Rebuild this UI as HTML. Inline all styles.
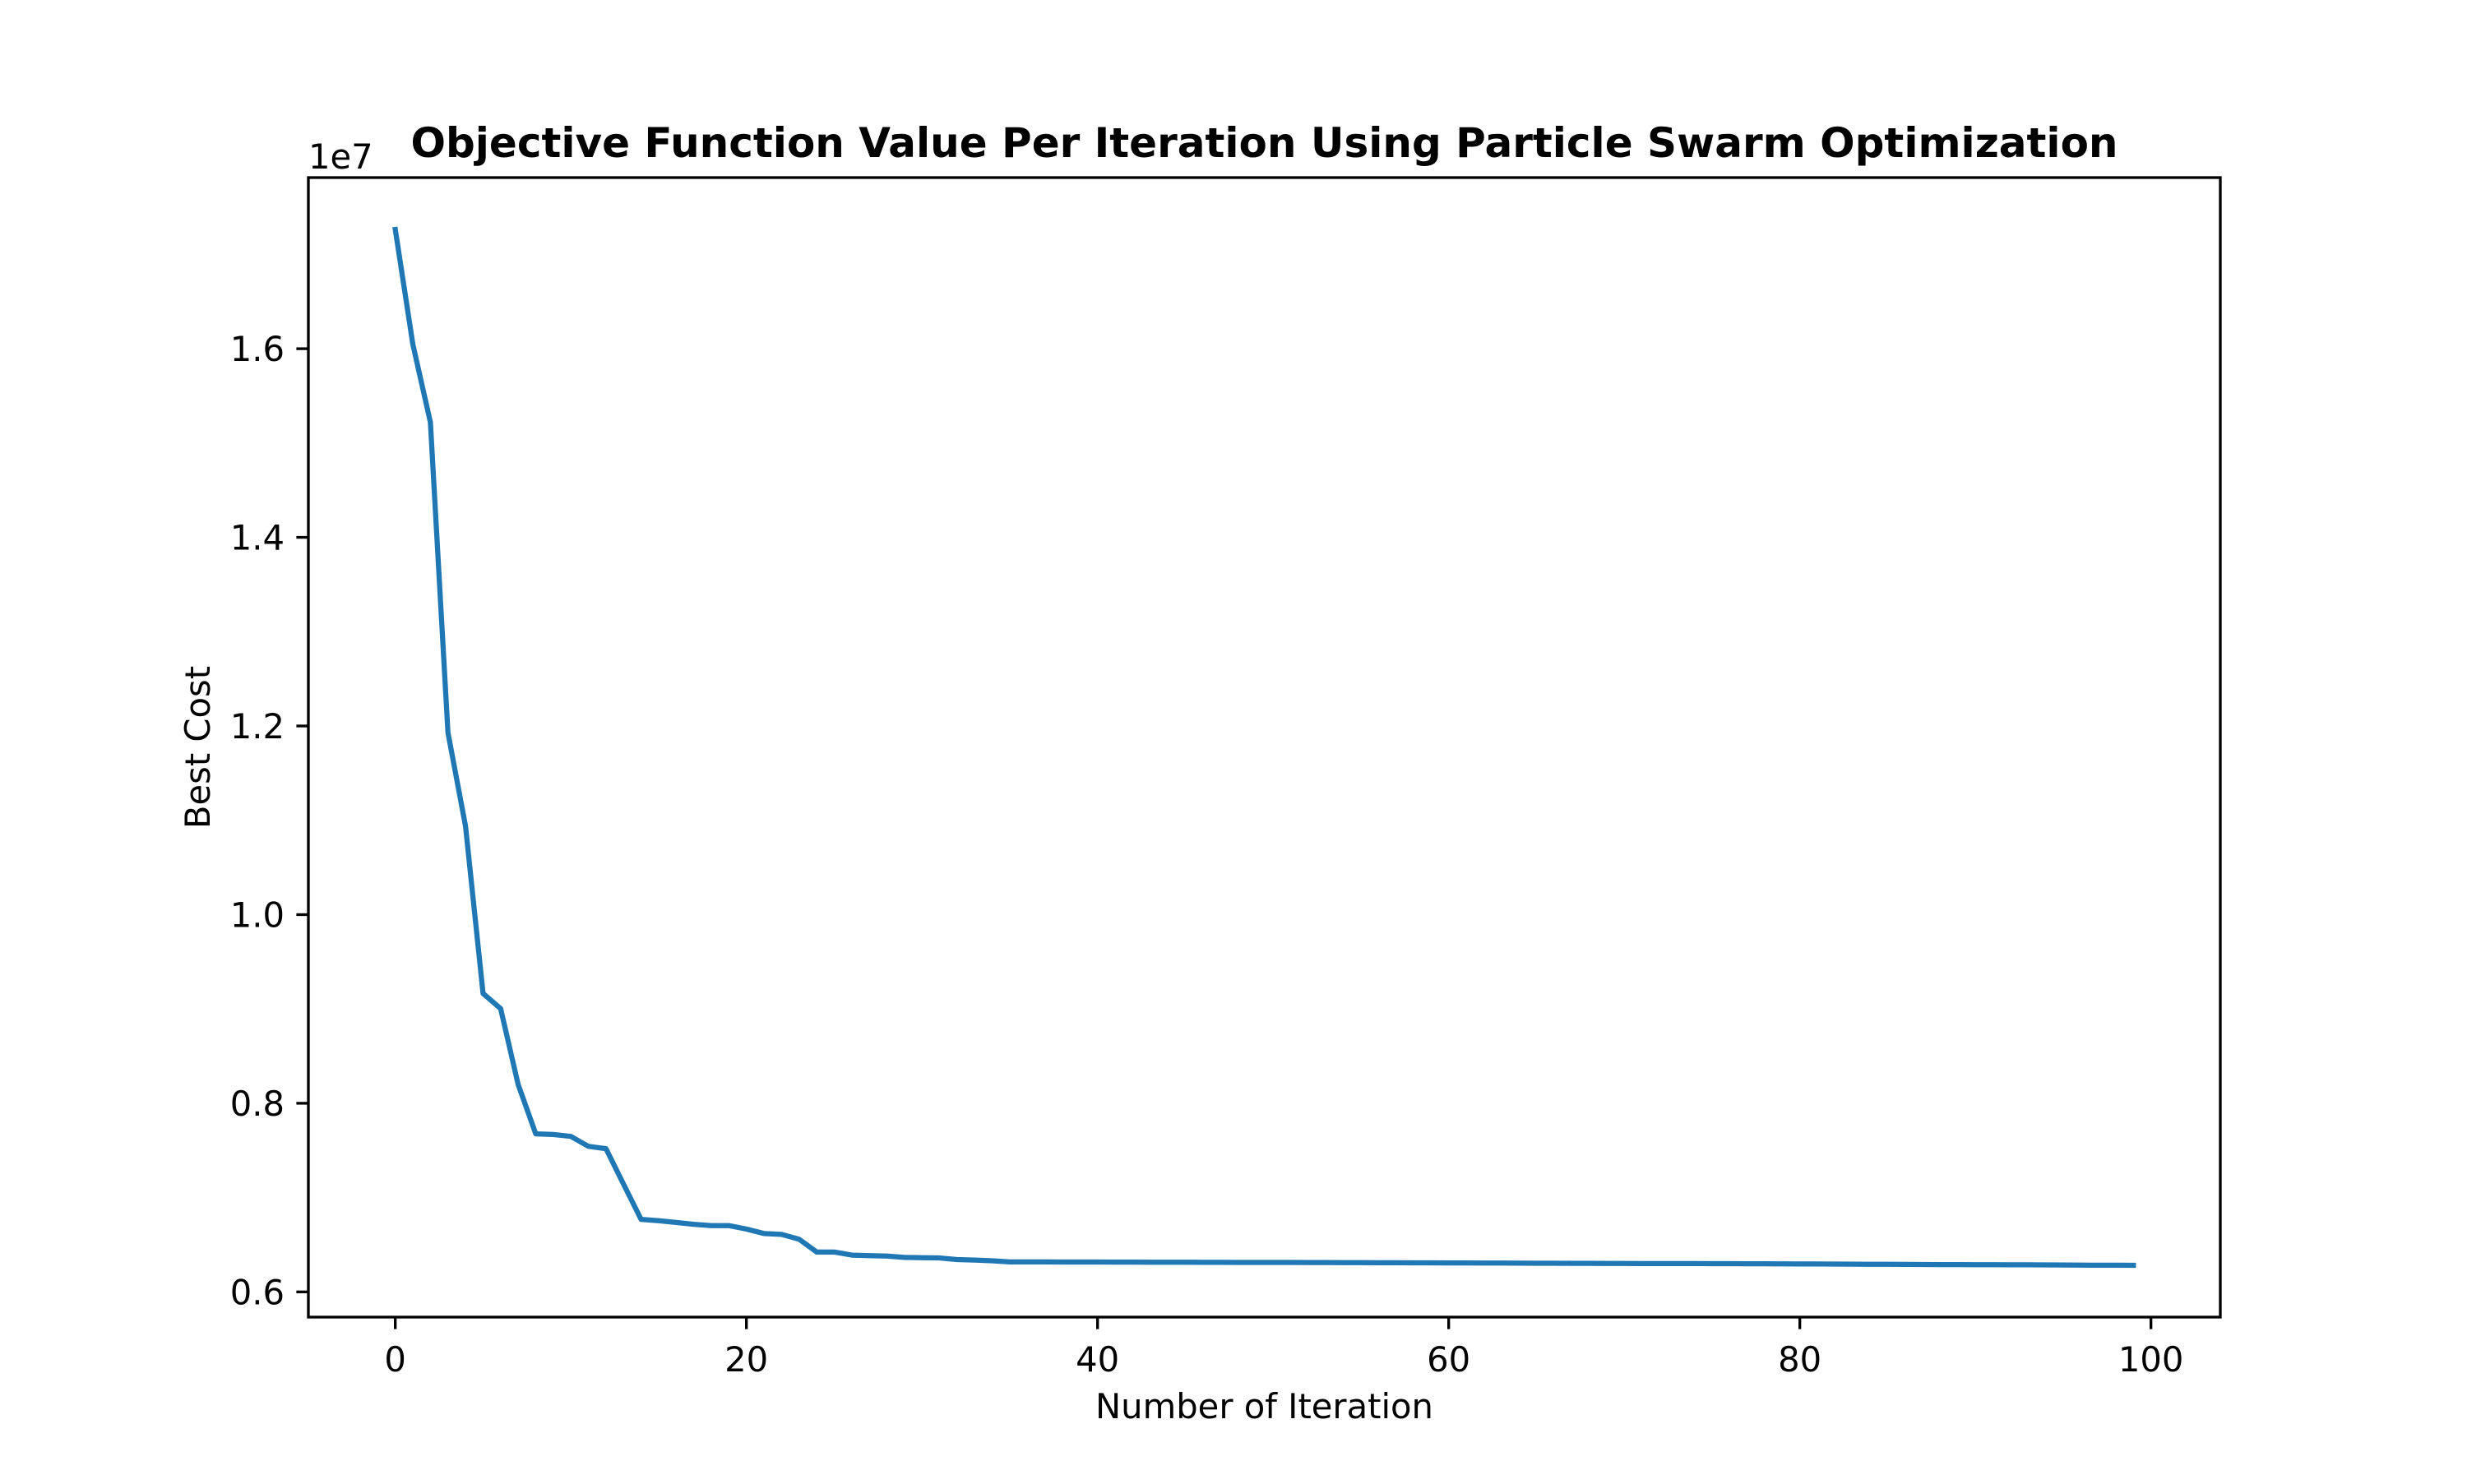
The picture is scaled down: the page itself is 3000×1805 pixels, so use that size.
<!DOCTYPE html>
<html><head><meta charset="utf-8"><style>
html,body{margin:0;padding:0;background:#fff;}
svg text{font-family:"DejaVu Sans","Liberation Sans",sans-serif;fill:#000;}
</style></head><body>
<svg id="chart" width="3000" height="1800" viewBox="0 0 3000 1800" xmlns="http://www.w3.org/2000/svg">
<rect x="0" y="0" width="3000" height="1800" fill="#fff"/>
<g id="marks"></g>
<g id="axes"></g>
</svg>
<script>
const iterations = [];
const bestCost = [1.7265,1.6047,1.5220,1.1930,1.0940,0.9164,0.9004,0.8198,0.7676,0.7669,
0.7649,0.7543,0.7519,0.7143,0.6769,0.6755,0.6736,0.6717,0.6703,0.6703,
0.6666,0.6619,0.6610,0.6559,0.6423,0.6423,0.6390,0.6384,0.6380,0.6366,
0.6363,0.6360,0.6343,0.6338,0.6330,0.6318,0.6318,0.6318,0.6317,0.6317,
0.6317,0.6316,0.6316,0.6315,0.6315,0.6315,0.6314,0.6314,0.6313,0.6313,
0.6312,0.6312,0.6311,0.6311,0.6310,0.6310,0.6309,0.6309,0.6308,0.6308,
0.6307,0.6307,0.6306,0.6306,0.6305,0.6304,0.6304,0.6303,0.6303,0.6302,
0.6302,0.6301,0.6301,0.6300,0.6300,0.6299,0.6299,0.6298,0.6298,0.6297,
0.6296,0.6296,0.6295,0.6294,0.6293,0.6293,0.6292,0.6291,0.6290,0.6290,
0.6289,0.6288,0.6287,0.6287,0.6286,0.6285,0.6284,0.6283,0.6283,0.6282];
for (let i = 0; i < bestCost.length; i++) iterations.push(i);
const xTicks = [0,20,40,60,80,100];
const yTicks = [0.6,0.8,1.0,1.2,1.4,1.6];
const yTickLabels = ["0.6","0.8","1.0","1.2","1.4","1.6"];

const NS = "http://www.w3.org/2000/svg";
const L = 375, R = 2700, T = 216, B = 1602;
const xmin0 = Math.min(...iterations), xmax0 = Math.max(...iterations);
const ymin0 = Math.min(...bestCost), ymax0 = Math.max(...bestCost);
const xm = (xmax0 - xmin0) * 0.05, ym = (ymax0 - ymin0) * 0.05;
const xlo = xmin0 - xm, xhi = xmax0 + xm, ylo = ymin0 - ym, yhi = ymax0 + ym;
const X = v => L + (v - xlo) / (xhi - xlo) * (R - L);
const Y = v => B - (v - ylo) / (yhi - ylo) * (B - T);
function mk(tag, attrs, parent) {
  const e = document.createElementNS(NS, tag);
  for (const k in attrs) e.setAttribute(k, attrs[k]);
  parent.appendChild(e);
  return e;
}
const marks = document.getElementById('marks');
const axes = document.getElementById('axes');

const pts = iterations.map((x, i) => X(x).toFixed(2) + ',' + Y(bestCost[i]).toFixed(2)).join(' ');
const line = mk('polyline', {points: pts, fill: 'none', stroke: '#1f77b4', 'stroke-width': 6.25, 'stroke-linejoin': 'round', 'stroke-linecap': 'square'}, marks);



const frame = mk('rect', {x: L, y: T, width: R - L, height: B - T, fill: 'none', stroke: '#000', 'stroke-width': 3.33}, axes);



xTicks.forEach(t => {
  const x = X(t);
  const tk = mk('line', {x1: x, y1: B, x2: x, y2: B + 14.6, stroke: '#000', 'stroke-width': 3.33}, axes);
  
  
  const lb = mk('text', {x: x, y: 1668, 'text-anchor': 'middle', 'font-size': 41.7}, axes);
  lb.textContent = String(t);
  
  
});
yTicks.forEach((t, i) => {
  const y = Y(t);
  const tk = mk('line', {x1: L - 14.6, y1: y, x2: L, y2: y, stroke: '#000', 'stroke-width': 3.33}, axes);
  
  
  const lb = mk('text', {x: L - 29, y: y + 15, 'text-anchor': 'end', 'font-size': 41.7}, axes);
  lb.textContent = yTickLabels[i];
  
  
});
const off = mk('text', {x: L, y: 205, 'font-size': 41.7}, axes);
off.textContent = '1e7';



const title = mk('text', {x: (L + R) / 2, y: 191, 'text-anchor': 'middle', 'font-size': 50, 'font-weight': 'bold'}, axes);
title.textContent = 'Objective Function Value Per Iteration Using Particle Swarm Optimization';



const xl = mk('text', {x: (L + R) / 2, y: 1725, 'text-anchor': 'middle', 'font-size': 41.7}, axes);
xl.textContent = 'Number of Iteration';



const yl = mk('text', {x: 0, y: 0, 'text-anchor': 'middle', 'font-size': 41.7, transform: 'translate(255,' + ((T + B) / 2) + ') rotate(-90)'}, axes);
yl.textContent = 'Best Cost';


</script>
</body></html>
